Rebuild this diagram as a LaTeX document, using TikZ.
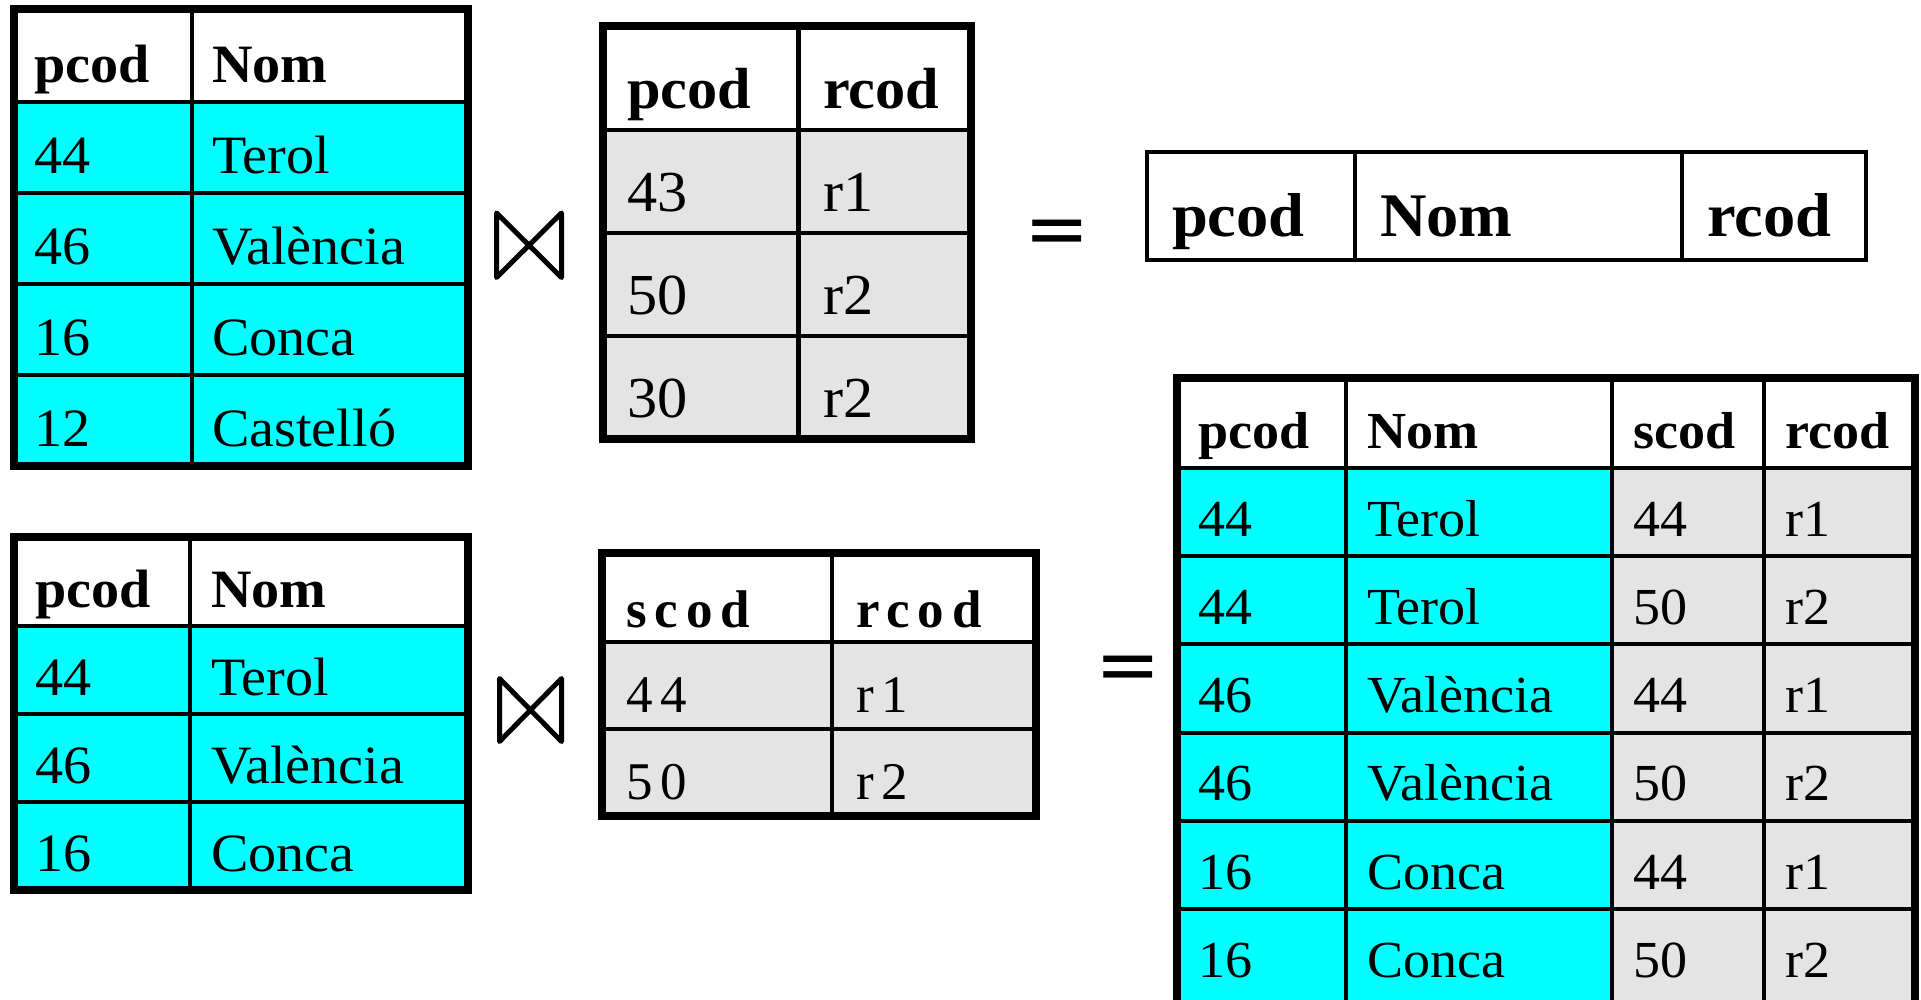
\documentclass[tikz,border=0pt]{standalone}
\usepackage{fontspec}
\setmainfont{Liberation Serif}[FakeStretch=1.04]
\newfontfamily\eqfont{DejaVu Sans}
\newfontfamily\spacedfont[LetterSpace=15]{Liberation Serif}
\usepackage{tikz}

\definecolor{cyanfill}{RGB}{0,255,255}
\definecolor{greyfill}{RGB}{228,228,228}

\tikzset{
    cell/.style={draw, line width=4pt, anchor=north west, outer sep=0pt, inner ysep=0pt, align=left},
    head/.style={cell, fill=white, execute at begin node=\bfseries},
    border/.style={line width=8pt},
    joinsym/.style={line width=5pt, line join=round},
    equals/.style={font=\eqfont\fontsize{78}{80}\selectfont, inner sep=0pt}
}

\begin{document}
\begin{tikzpicture}[x=1pt, y=-1pt]
    \useasboundingbox (0,0) rectangle (1921,999);
    \clip (0,0) rectangle (1921,999);

    % provincies
    \begin{scope}[font=\fontsize{54}{60}\selectfont, inner xsep=20pt]
        \node[head, text width=138pt, text height=73pt, text depth=20pt] (A-0-1) at (14,9) {pcod};
        \node[head, text width=236pt, text height=73pt, text depth=20pt] (A-0-2) at (192,9) {Nom};
        \foreach \p/\n [count=\i] in {44/Terol, 46/València, 16/Conca, 12/Castelló}{
            \node[cell, fill=cyanfill, text width=138pt, text height=71pt, text depth=20pt] (A-\i-1) at (14,{11+91*\i}) {\p};
            \node[cell, fill=cyanfill, text width=236pt, text height=71pt, text depth=20pt] (A-\i-2) at (192,{11+91*\i}) {\n};
        }
        \draw[border] (A-0-1.north west) rectangle (A-4-2.south east);
    \end{scope}

    % pcod - rcod
    \begin{scope}[font=\fontsize{58}{64}\selectfont, inner xsep=24pt]
        \node[head, text width=147pt, text height=82pt, text depth=22pt] (B-0-1) at (603,26) {pcod};
        \node[head, text width=124pt, text height=82pt, text depth=22pt] (B-0-2) at (799,26) {rcod};
        \foreach \p/\r [count=\i] in {43/r1, 50/r2, 30/r2}{
            \node[cell, fill=greyfill, text width=147pt, text height=81pt, text depth=22pt] (B-\i-1) at (603,{27+103*\i}) {\p};
            \node[cell, fill=greyfill, text width=124pt, text height=81pt, text depth=22pt] (B-\i-2) at (799,{27+103*\i}) {\r};
        }
        \draw[border] (B-0-1.north west) rectangle (B-3-2.south east);
    \end{scope}

    % empty result
    \begin{scope}[font=\fontsize{62}{70}\selectfont, inner xsep=25pt]
        \node[head, text width=158pt, text height=84pt, text depth=24pt] (C-0-1) at (1147,152) {pcod};
        \node[head, text width=277pt, text height=84pt, text depth=24pt] (C-0-2) at (1355,152) {Nom};
        \node[head, text width=134pt, text height=84pt, text depth=24pt] (C-0-3) at (1682,152) {rcod};
    \end{scope}

    % provincies (2)
    \begin{scope}[font=\fontsize{54}{60}\selectfont, inner xsep=21pt]
        \node[head, text width=134pt, text height=70pt, text depth=19pt] (D-0-1) at (14,537) {pcod};
        \node[head, text width=236pt, text height=70pt, text depth=19pt] (D-0-2) at (190,537) {Nom};
        \foreach \p/\n [count=\i] in {44/Terol, 46/València, 16/Conca}{
            \node[cell, fill=cyanfill, text width=134pt, text height=69pt, text depth=19pt] (D-\i-1) at (14,{538+88*\i}) {\p};
            \node[cell, fill=cyanfill, text width=236pt, text height=69pt, text depth=19pt] (D-\i-2) at (190,{538+88*\i}) {\n};
        }
        \draw[border] (D-0-1.north west) rectangle (D-3-2.south east);
    \end{scope}

    % scod - rcod
    \begin{scope}[font=\spacedfont\fontsize{53}{60}\selectfont, inner xsep=24pt]
        \node[head, text width=182pt, text height=74pt, text depth=15pt] (F-0-1) at (602,553) {scod};
        \node[head, text width=156pt, text height=74pt, text depth=15pt] (F-0-2) at (832,553) {rcod};
        \foreach \s/\r [count=\i] in {44/r1, 50/r2}{
            \node[cell, fill=greyfill, text width=182pt, text height=70pt, text depth=17pt] (F-\i-1) at (602,{555+87*\i}) {\s};
            \node[cell, fill=greyfill, text width=156pt, text height=70pt, text depth=17pt] (F-\i-2) at (832,{555+87*\i}) {\r};
        }
        \draw[border] (F-0-1.north west) rectangle (F-2-2.south east);
    \end{scope}

    % result
    \begin{scope}[font=\fontsize{52}{58}\selectfont, inner xsep=21pt]
        \node[head, text width=127pt, text height=70pt, text depth=20pt] (E-0-1) at (1177,378) {pcod};
        \node[head, text width=224pt, text height=70pt, text depth=20pt] (E-0-2) at (1346,378) {Nom};
        \node[head, text width=110pt, text height=70pt, text depth=20pt] (E-0-3) at (1612,378) {scod};
        \node[head, text width=109pt, text height=70pt, text depth=20pt] (E-0-4) at (1764,378) {rcod};
        \foreach \p/\n/\s/\r [count=\i] in {44/Terol/44/r1, 44/Terol/50/r2, 46/València/44/r1, 46/València/50/r2, 16/Conca/44/r1, 16/Conca/50/r2}{
            \pgfmathsetmacro\dd{\i==6 ? 50 : 20}
            \node[cell, fill=cyanfill, text width=127pt, text height=68.2pt, text depth=\dd pt] (E-\i-1) at (1177,{379.8+88.2*\i}) {\p};
            \node[cell, fill=cyanfill, text width=224pt, text height=68.2pt, text depth=\dd pt] (E-\i-2) at (1346,{379.8+88.2*\i}) {\n};
            \node[cell, fill=greyfill, text width=110pt, text height=68.2pt, text depth=\dd pt] (E-\i-3) at (1612,{379.8+88.2*\i}) {\s};
            \node[cell, fill=greyfill, text width=109pt, text height=68.2pt, text depth=\dd pt] (E-\i-4) at (1764,{379.8+88.2*\i}) {\r};
        }
        \draw[border] (E-0-1.north west) rectangle (E-6-4.south east);
    \end{scope}

    % join signs
    \draw[joinsym] (496.5,213) -- (561.5,277.5) -- (561.5,213) -- (496.5,277.5) -- cycle;
    \draw[joinsym] (499.5,678.5) -- (561.5,741.5) -- (561.5,678.5) -- (499.5,741.5) -- cycle;

    % equal signs
    \node[equals] (eq1) at (1057,237.5) {=};
    \node[equals] (eq2) at (1128.5,673.5) {=};
\end{tikzpicture}
\end{document}
